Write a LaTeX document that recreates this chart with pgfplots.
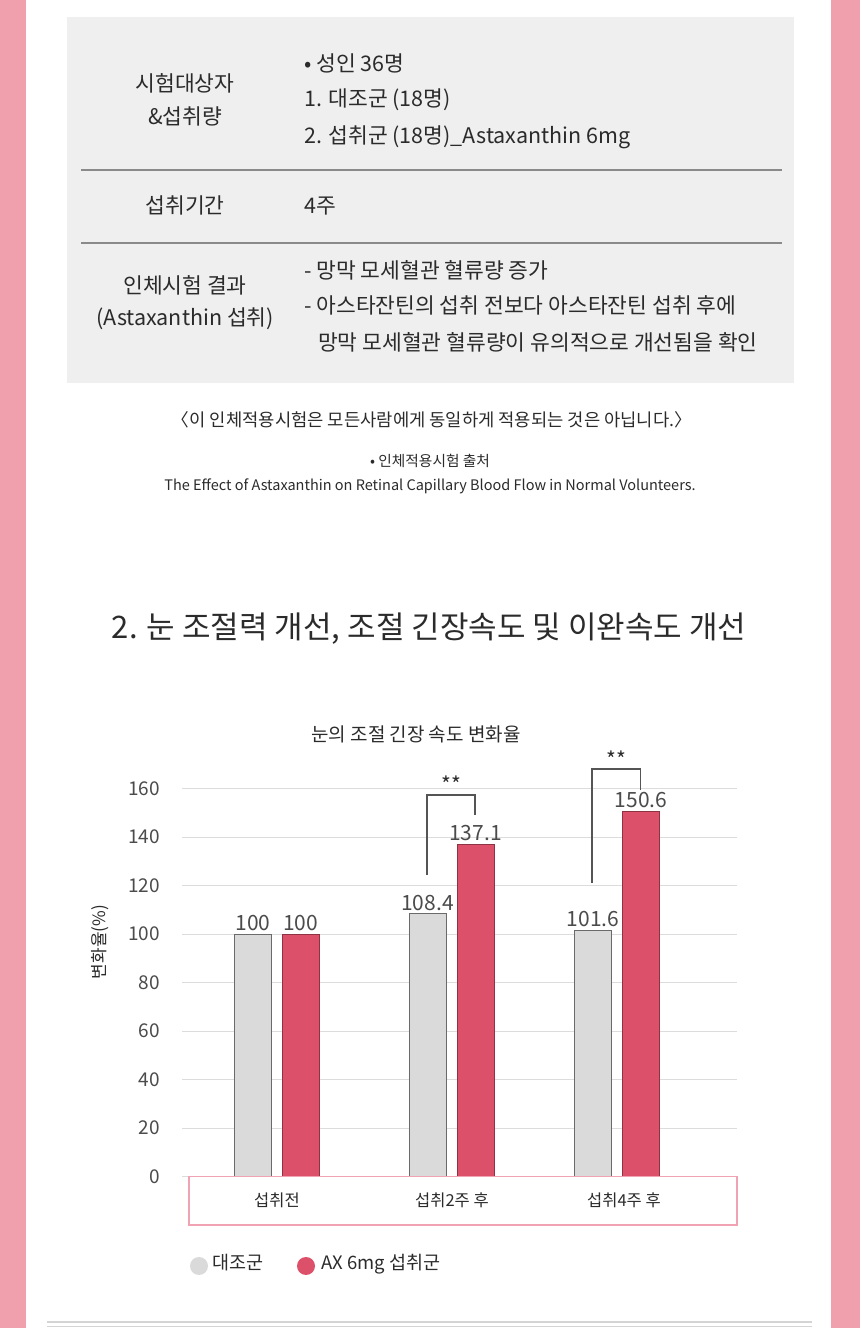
\documentclass[border=0pt]{standalone}
\usepackage{fontspec}
\setmainfont{Noto Sans CJK KR}
\usepackage{pgfplots}
\pgfplotsset{compat=1.18}

\definecolor{pinkstrip}{HTML}{EFA0AC}
\definecolor{boxgray}{HTML}{EFEFEF}
\definecolor{linegray}{HTML}{8A8A8A}
\definecolor{txt}{HTML}{2B2B2B}
\definecolor{gridgray}{HTML}{DCDCDC}
\definecolor{barGray}{HTML}{DADADA}
\definecolor{barGrayEdge}{HTML}{6A6A6A}
\definecolor{barRed}{HTML}{DC5069}
\definecolor{barRedEdge}{HTML}{8E3344}
\definecolor{pinkbox}{HTML}{F2A3B3}
\definecolor{bottomline}{HTML}{D4D4D4}

\newcommand\fs[1]{\fontsize{#1}{#1}\selectfont}

\begin{document}
\begin{tikzpicture}[x=1pt,y=1pt,
  t/.style={inner sep=0pt, text height=0.8em, text depth=0.08em, text=txt}]
\useasboundingbox (0,0) rectangle (860,1328);
\fill[white] (0,0) rectangle (860,1328);
\fill[pinkstrip] (0,0) rectangle (26,1328);
\fill[pinkstrip] (831,0) rectangle (860,1328);

% study summary box
\fill[boxgray] (67,945) rectangle (794,1310.7);
\draw[linegray, line width=1.5pt] (81,1158) -- (782,1158);
\draw[linegray, line width=1.5pt] (81,1085) -- (782,1085);

\begin{scope}[font=\fs{21.5}]
\node[t] at (185,1240) {시험대상자};
\node[t] at (185,1207) {\&섭취량};
\node[t, anchor=west] at (304,1260) {• 성인 36명};
\node[t, anchor=west] at (304,1225) {1. 대조군 (18명)};
\node[t, anchor=west] at (304,1188) {2. 섭취군 (18명)\_Astaxanthin 6mg};
\node[t] at (185,1118) {섭취기간};
\node[t, anchor=west] at (304,1118) {4주};
\node[t] at (185,1038) {인체시험 결과};
\node[t] at (185,1006) {(Astaxanthin 섭취)};
\node[t, anchor=west] at (304,1053) {- 망막 모세혈관 혈류량 증가};
\node[t, anchor=west] at (304,1018) {- 아스타잔틴의 섭취 전보다 아스타잔틴 섭취 후에};
\node[t, anchor=west] at (318,981) {망막 모세혈관 혈류량이 유의적으로 개선됨을 확인};
\end{scope}

\node[t, font=\fs{17.7}] at (432,905) {〈이 인체적용시험은 모든사람에게 동일하게 적용되는 것은 아닙니다.〉};
\node[t, font=\fs{14.7}] at (430,865) {• 인체적용시험 출처};
\node[t, font=\fs{14.5}] at (430,841) {The Effect of Astaxanthin on Retinal Capillary Blood Flow in Normal Volunteers.};

\node[t, font=\fs{31}] at (429,693) {2. 눈 조절력 개선, 조절 긴장속도 및 이완속도 개선};
\node[t, font=\fs{19}] at (416,590) {눈의 조절 긴장 속도 변화율};
\node[t, font=\fs{17}, rotate=90] at (102,386) {변화율(\%)};

\begin{axis}[
  at={(182pt,151.3pt)}, anchor=south west,
  x=1pt, y=2.425pt,
  xmin=182, xmax=737, ymin=0, ymax=160,
  enlargelimits=false,
  clip=false,
  axis line style={draw=none},
  tick style={draw=none},
  xtick=\empty,
  ytick={0,20,...,160},
  ymajorgrids,
  grid style={color=gridgray, line width=1.3pt},
  yticklabel style={font=\fs{19}, text=txt!85, anchor=east, inner sep=0pt, xshift=-22pt},
  /pgf/number format/assume math mode=true,
  ybar, bar width=37, bar shift=0pt,
  nodes near coords,
  every node near coord/.append style={font=\fs{21}, text=txt!85, inner sep=0pt, yshift=3pt},
]
\addplot[fill=barGray, draw=barGrayEdge, line width=0.8pt]
  coordinates {(253,100) (427.5,108.4) (593,101.6)};
\addplot[fill=barRed, draw=barRedEdge, line width=0.8pt]
  coordinates {(300.5,100) (475.5,137.1) (641,150.6)};

\draw[pinkbox, line width=1.5pt] (axis cs:189,0) rectangle (axis cs:737,-19.9);

\draw[txt!80, line width=1.5pt] (axis cs:427,124.4) |- (axis cs:475,157.4) -- (axis cs:475,149.2);
\draw[txt!80, line width=1.5pt] (axis cs:592,121.1) |- (axis cs:640.5,168.1) -- (axis cs:640.5,159.5);
\node[font=\fs{21}, text=txt, inner sep=0pt] at (axis cs:451,161.8) {**};
\node[font=\fs{21}, text=txt, inner sep=0pt] at (axis cs:616,172.3) {**};

\node[t, font=\fs{16.5}] at (axis cs:277,-10.9) {섭취전};
\node[t, font=\fs{16.5}] at (axis cs:452,-10.9) {섭취2주 후};
\node[t, font=\fs{16.5}] at (axis cs:624,-10.9) {섭취4주 후};
\end{axis}

% legend
\fill[barGray] (199,62) circle (9);
\node[t, font=\fs{18.5}, anchor=west] at (212,62) {대조군};
\fill[barRed] (306,62) circle (9);
\node[t, font=\fs{18.5}, anchor=west] at (321,62) {AX 6mg 섭취군};

% bottom rule
\draw[bottomline, line width=1.5pt] (47,6) -- (812,6);
\draw[bottomline, line width=1.5pt] (47,1.5) -- (812,1.5);
\end{tikzpicture}
\end{document}
